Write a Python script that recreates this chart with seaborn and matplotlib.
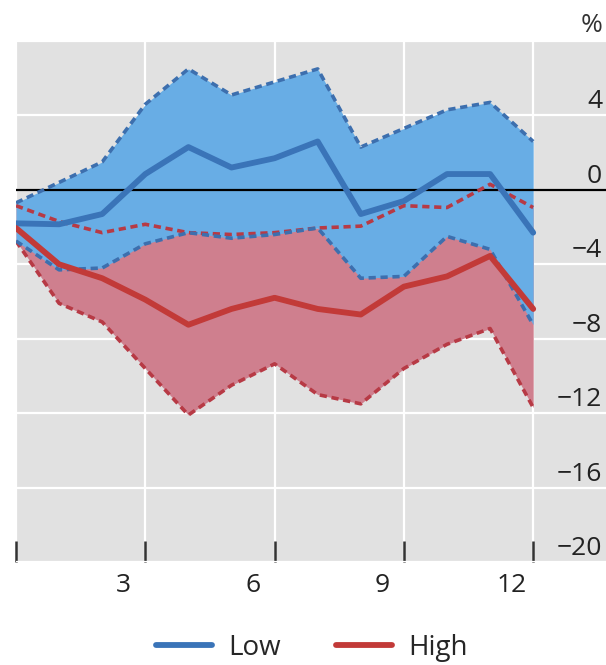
import matplotlib
matplotlib.use("Agg")
import matplotlib.pyplot as plt
import matplotlib.transforms as mtransforms
from matplotlib.lines import Line2D
import numpy as np
import pandas as pd
import seaborn as sns

# Months after the shock
months = list(range(13))

# Low group: central estimate and confidence band
low_mid = [-1.8, -1.85, -1.3, 0.85, 2.3, 1.2, 1.7, 2.6, -1.3, -0.6, 0.85, 0.85, -2.3]
low_upper = [-0.7, 0.4, 1.5, 4.6, 6.5, 5.1, 5.8, 6.5, 2.3, 3.3, 4.3, 4.7, 2.6]
low_lower = [-2.75, -4.3, -4.2, -2.9, -2.3, -2.6, -2.4, -2.05, -4.75, -4.65, -2.5, -3.2, -7.25]

# High group: central estimate and confidence band
high_mid = [-2.05, -4.0, -4.75, -5.9, -7.25, -6.4, -5.8, -6.4, -6.7, -5.2, -4.65, -3.55, -6.4]
high_upper = [-0.85, -1.7, -2.3, -1.85, -2.3, -2.4, -2.3, -2.05, -1.95, -0.85, -0.95, 0.3, -0.95]
high_lower = [-2.75, -6.1, -7.1, -9.6, -12.1, -10.5, -9.35, -11.0, -11.5, -9.6, -8.3, -7.45, -11.7]

x_ticks = [0, 3, 6, 9, 12]
x_label_pos = [2.5, 5.5, 8.5, 11.5]
x_labels = ["3", "6", "9", "12"]
y_ticks = [4, 0, -4, -8, -12, -16, -20]
y_labels = ["4", "0", "\u22124", "\u22128", "\u221212", "\u221216", "\u221220"]
series_names = ["Low", "High"]

BG = "#e1e1e1"
BLUE_FILL = "#68ade5"
BLUE_LINE = "#3a74b8"
BLUE_DASH = "#3d6fae"
RED_FILL = "#cf7f8e"
RED_LINE = "#c23a38"
RED_DASH = "#b73a45"

sns.set_theme(style="darkgrid", rc={"axes.facecolor": BG, "grid.color": "white",
                                    "grid.linewidth": 1.6})
plt.rcParams["font.family"] = ["Open Sans", "DejaVu Sans"]

df = pd.DataFrame({
    "month": months,
    "low_mid": low_mid, "low_upper": low_upper, "low_lower": low_lower,
    "high_mid": high_mid, "high_upper": high_upper, "high_lower": high_lower,
})

fig = plt.figure(figsize=(6.06, 6.65), dpi=100)
ax = fig.add_axes([16 / 606, 1 - 562 / 665, 590 / 606, 521 / 665])

# Confidence bands: High first, Low drawn over it
ax.fill_between(df["month"], df["high_lower"], df["high_upper"], color=RED_FILL,
                linewidth=0, zorder=2)
ax.fill_between(df["month"], df["low_lower"], df["low_upper"], color=BLUE_FILL,
                linewidth=0, zorder=3)

ax.axhline(0, color="black", linewidth=1.6, zorder=4)

dash = (0, (2.0, 1.3))
for col, color in [("high_upper", RED_DASH), ("high_lower", RED_DASH),
                   ("low_upper", BLUE_DASH), ("low_lower", BLUE_DASH)]:
    sns.lineplot(data=df, x="month", y=col, ax=ax, color=color, linewidth=2.6,
                 linestyle=dash, zorder=5)
sns.lineplot(data=df, x="month", y="low_mid", ax=ax, color=BLUE_LINE, linewidth=4.2,
             zorder=6)
sns.lineplot(data=df, x="month", y="high_mid", ax=ax, color=RED_LINE, linewidth=4.2,
             zorder=6)

ax.set_xlim(0, 590 / 43.1)
ax.set_ylim(-20, 8)
ax.set_xlabel("")
ax.set_ylabel("")

# Grid lines and inward bottom ticks
ax.set_xticks(x_ticks)
ax.set_xticklabels([])
ax.set_yticks([8, 4, 0, -4, -8, -12, -16, -20])
ax.set_yticklabels([])
ax.tick_params(axis="x", which="major", direction="in", length=15, width=1.8,
               color="#333333", bottom=True, pad=0)
ax.tick_params(axis="y", length=0)
for side in ["top", "right", "left", "bottom"]:
    ax.spines[side].set_visible(False)

# Month labels sit between the tick marks
for pos, lab in zip(x_label_pos, x_labels):
    ax.annotate(lab, xy=(pos, 0), xycoords=("data", "axes fraction"),
                xytext=(0, -23), textcoords="offset pixels", ha="center", va="center",
                fontsize=19, color="#222222", annotation_clip=False)

# Value labels inside the plot, above each grid line
for val, lab in zip(y_ticks, y_labels):
    ax.annotate(lab, xy=(1, val), xycoords=("axes fraction", "data"),
                xytext=(-4, 7), textcoords="offset pixels", ha="right", va="baseline",
                fontsize=19, color="#222222", annotation_clip=False)

fig.text(603 / 606, 1 - 25 / 665, "%", ha="right", va="center", fontsize=19,
         color="#333333")

handles = [Line2D([0], [0], color=BLUE_LINE, linewidth=4.2),
           Line2D([0], [0], color=RED_LINE, linewidth=4.2)]
fig.legend(handles, series_names, loc="center", bbox_to_anchor=(0.515, 1 - 648 / 665),
           ncol=2, frameon=False, fontsize=20, handlelength=2.0, handletextpad=0.6,
           columnspacing=2.0)

fig.savefig("out.png", dpi=100, facecolor="white")
